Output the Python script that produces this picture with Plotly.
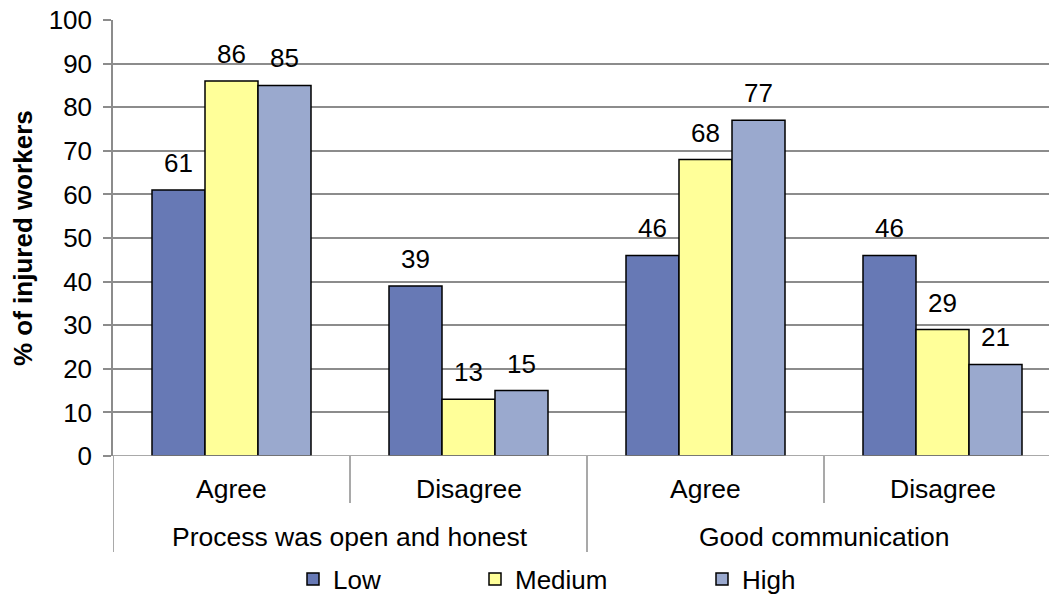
import plotly.graph_objects as go

# ---- data ----
groups = ["Process was open and honest", "Good communication"]
responses = ["Agree", "Disagree", "Agree", "Disagree"]
series_names = ["Low", "Medium", "High"]
low = [61, 39, 46, 46]
medium = [86, 13, 68, 29]
high = [85, 15, 77, 21]
y_ticks = list(range(0, 101, 10))
y_title = "% of injured workers"

# ---- style / layout ----
colors = ["#6779B5", "#FFFF99", "#9AA9CE"]
FONT = "Liberation Sans, Arial, sans-serif"
FS = 26
FS_CAT = 26.5
GRID = "#8C8C8C"
W, H = 1049, 594
L, T, B = 113, 20, 138
cat_px = 237
bar_px = 53
plot_w = W - L
plot_h = H - T - B
n = len(responses)
xs = list(range(n))
x_max = -0.5 + plot_w / cat_px
barw = bar_px / cat_px

fig = go.Figure()
series = [low, medium, high]
legend_ids = ["legend", "legend2", "legend3"]
for k, (name, vals, col) in enumerate(zip(series_names, series, colors)):
    fig.add_trace(go.Bar(
        x=xs, y=vals, name=name,
        marker=dict(color=col, line=dict(color="black", width=1.5)),
        legend=legend_ids[k], hoverinfo="skip",
    ))
    for i, v in enumerate(vals):
        fig.add_annotation(x=i + (k - 1) * barw, y=v, xref="x", yref="y",
                           text=str(v), showarrow=False, yanchor="middle",
                           yshift=27, font=dict(family=FONT, size=FS, color="black"))

# category labels
for i, r in enumerate(responses):
    fig.add_annotation(x=i, y=-(489 - 456) / plot_h, xref="x", yref="paper",
                       text=r, showarrow=False, yanchor="middle",
                       font=dict(family=FONT, size=FS_CAT, color="black"))
for g, name in enumerate(groups):
    fig.add_annotation(x=2 * g + 0.5, y=-(537 - 456) / plot_h, xref="x", yref="paper",
                       text=name, showarrow=False, yanchor="middle",
                       font=dict(family=FONT, size=FS_CAT, color="black"))

# y title
fig.add_annotation(x=-(L - 23) / plot_w, y=0.5, xref="paper", yref="paper",
                   text="<b>" + y_title + "</b>", textangle=-90, showarrow=False,
                   xanchor="center", yanchor="middle",
                   font=dict(family=FONT, size=FS, color="black"))

# x axis baseline and category dividers
shapes = [dict(type="line", xref="paper", yref="y", x0=-9 / plot_w, x1=1, y0=0, y1=0,
               line=dict(color=GRID, width=1.5))]
short_d = -(503 - 456) / plot_h
long_d = -(552 - 456) / plot_h
for j in range(n + 1):
    xpos = j - 0.5
    y1 = long_d if j % 2 == 0 else short_d
    shapes.append(dict(type="line", xref="x", yref="paper", x0=xpos, x1=xpos,
                       y0=0, y1=y1, line=dict(color=GRID, width=1.5)))

leg_text_x = [333, 515, 742]
leg_common = dict(orientation="h", yanchor="middle", xanchor="left",
                  xref="container", yref="container",
                  bgcolor="rgba(0,0,0,0)", font=dict(family=FONT, size=FS, color="black"),
                  y=1 - 579 / H)
layout_legends = {}
for k, lid in enumerate(legend_ids):
    layout_legends[lid] = dict(leg_common, x=(leg_text_x[k] - 40) / W)

fig.update_layout(
    width=W, height=H,
    margin=dict(l=L, r=0, t=T, b=B, pad=0, autoexpand=False),
    plot_bgcolor="white", paper_bgcolor="white",
    barmode="group", bargap=1 - 3 * barw, bargroupgap=0,
    font=dict(family=FONT, size=FS, color="black"),
    showlegend=True,
    shapes=shapes,
    xaxis=dict(range=[-0.5, x_max], showticklabels=False, showgrid=False,
               zeroline=False, showline=False, ticks=""),
    yaxis=dict(range=[0, 100], tickvals=y_ticks, showgrid=True, gridcolor=GRID,
               gridwidth=1.5, zeroline=False, showline=True, linecolor=GRID,
               linewidth=1.5, ticks="outside", ticklen=8, tickcolor=GRID,
               tickwidth=1.5, ticklabelstandoff=6,
               tickfont=dict(family=FONT, size=FS, color="black")),
    **layout_legends,
)

fig.write_html("out.html", config={"displayModeBar": False},
               post_script="document.body.style.margin='0';document.body.style.overflow='hidden';")
